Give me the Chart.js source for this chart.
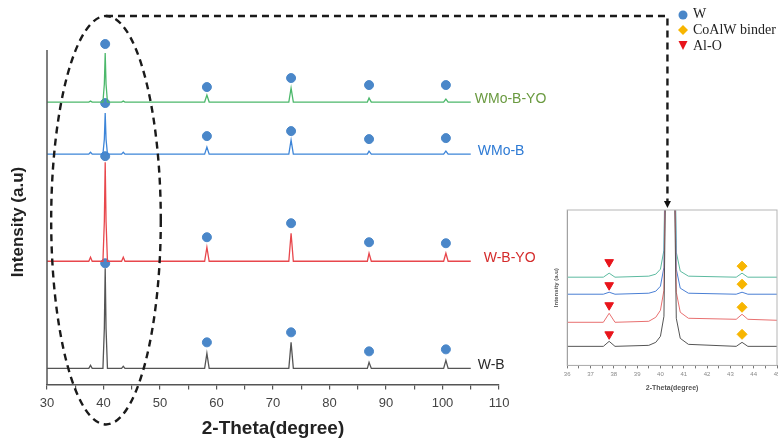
<!DOCTYPE html>
<html>
<head>
<meta charset="utf-8">
<script src="https://cdn.jsdelivr.net/npm/chart.js@4.4.0/dist/chart.umd.min.js"></script>
<style>
  html, body { margin: 0; padding: 0; background: #fff; }
  #wrap { position: relative; width: 778px; height: 438px; overflow: hidden; }
  #main { position: absolute; left: 0; top: 0; }
  #inset { position: absolute; left: 535px; top: 195px; }
</style>
</head>
<body>
<div id="wrap">
  <canvas id="main" width="778" height="438"></canvas>
  <canvas id="inset" width="260" height="243"></canvas>
</div>
<script>
// XRD patterns - main plot (2-theta 30..105)
const twoTheta = [30, 37.4, 37.7, 38.0, 39.9, 40.15, 40.3, 40.45, 40.7, 43.2, 43.5, 43.8, 57.9, 58.3, 58.7, 72.8, 73.2, 73.6, 86.7, 87.0, 87.4, 100.2, 100.6, 101.0, 105];
const wB     = [0, 0, 3, 0, 0, 40, 100, 40, 0, 0, 2, 0, 0, 15, 0, 0, 26, 0, 0, 6, 0, 0, 8, 0, 0];
const wBYO   = [0, 0, 4, 0, 0, 40, 99, 40, 0, 0, 4, 0, 0, 14, 0, 0, 28, 0, 0, 8, 0, 0, 8, 0, 0];
const wMoB   = [0, 0, 2, 0, 0, 15, 41, 15, 0, 0, 2, 0, 0, 7, 0, 0, 14, 0, 0, 3, 0, 0, 3, 0, 0];
const wMoBYO = [0, 0, 1, 0, 0, 18, 49, 18, 0, 0, 1, 0, 0, 7, 0, 0, 14, 0, 0, 4, 0, 0, 3, 0, 0];
const seriesNames = ['W-B', 'W-B-YO', 'WMo-B', 'WMo-B-YO'];
const offsets = [16, 123, 230, 282];

// W peak markers (blue dots)
const wPeaks = [40.3, 58.3, 73.2, 87.0, 100.6];
const dotWB     = [121, 42, 52, 33, 35];
const dotWBYO   = [228, 147, 161, 142, 141];
const dotWMoB   = [281, 248, 253, 245, 246];
const dotWMoBYO = [340, 297, 306, 299, 299];

// inset (2-theta 36..45)
const insetTheta = [36, 37.55, 37.8, 38.05, 39.5, 39.8, 40.0, 40.15, 40.24, 40.32, 40.5, 40.58, 40.68, 40.85, 41.2, 43.25, 43.5, 43.75, 45];
const inWB     = [0, 0, 5, 0, 1, 4, 10, 30, 200, 400, 400, 200, 28, 8, 2, 0, 4, 0, 0];
const inWBYO   = [0, 0, 9, 0, 1, 5, 12, 32, 200, 400, 400, 200, 30, 10, 4, 3, 8, 3, 2];
const inWMoB   = [0, 0, 2, 0, 1, 3, 8, 27, 200, 400, 400, 200, 25, 6, 1, 0, 2, 0, 0];
const inWMoBYO = [0, 0, 4, 0, 1, 3, 8, 27, 200, 400, 400, 200, 25, 6, 1, 0, 4, 0, 0];
const inOffsets = [19, 43, 71, 88];
const alOPeak = 37.8;
const alOMarks = [31, 60, 80, 103];
const binderPeak = 43.5;
const binderMarks = [31, 58, 81, 99];

const lineColors = ['#555555', '#e8474c', '#3d85d8', '#4cb86b'];
const labelColors = ['#2a2a2a', '#d42b2b', '#2d7ad4', '#6a9a40'];
const inColors = ['#555555', '#e87070', '#4a7fd4', '#5cbaa0'];
const dotColor = '#4a87c9';

function toPoints(xs, ys, off) {
  return xs.map((x, i) => ({ x: x, y: ys[i] + off }));
}

// ---------- inset chart ----------
const insetBox = {
  id: 'insetBox',
  afterDraw(chart) {
    const { ctx, chartArea: a } = chart;
    ctx.save();
    ctx.strokeStyle = '#b5b5b5';
    ctx.lineWidth = 1;
    ctx.strokeRect(a.left, a.top, a.right - a.left, a.bottom - a.top);
    ctx.restore();
  }
};

const inSeries = [inWB, inWBYO, inWMoB, inWMoBYO];
const insetChart = new Chart(document.getElementById('inset'), {
  type: 'scatter',
  data: {
    datasets: inSeries.map((s, i) => ({
      data: toPoints(insetTheta, s, inOffsets[i]),
      showLine: true,
      borderColor: inColors[i],
      borderWidth: 1,
      pointRadius: 0
    })).concat([
      {
        data: alOMarks.map(v => ({ x: alOPeak, y: v })),
        pointStyle: 'triangle', rotation: 180, pointRadius: 5,
        backgroundColor: '#e8141b', borderColor: '#e8141b'
      },
      {
        data: binderMarks.map(v => ({ x: binderPeak, y: v })),
        pointStyle: 'rectRot', pointRadius: 5,
        backgroundColor: '#f7b500', borderColor: '#f7b500'
      }
    ])
  },
  options: {
    responsive: false,
    animation: false,
    layout: { padding: { left: 9, top: 15, right: 18, bottom: 46 } },
    plugins: { legend: { display: false }, tooltip: { enabled: false } },
    scales: {
      x: {
        type: 'linear', min: 36, max: 45,
        ticks: { stepSize: 0.5, autoSkip: false, maxRotation: 0, padding: 2, color: '#888',
                 font: { size: 6 }, callback: v => (v % 1 === 0 ? v : '') },
        grid: { drawOnChartArea: false, tickLength: 3, color: '#777' },
        border: { color: '#777', width: 1 },
        title: { display: true, text: '2-Theta(degree)', color: '#555',
                 font: { size: 7, weight: 'bold' }, padding: { top: 4, bottom: 0 } }
      },
      y: {
        min: 0, max: 155,
        ticks: { display: false },
        grid: { drawOnChartArea: false, drawTicks: false },
        border: { color: '#777', width: 1 },
        title: { display: true, text: 'Intensity (a.u)', color: '#555',
                 font: { size: 6, weight: 'bold' }, padding: { top: 9, bottom: 7 } }
      }
    }
  },
  plugins: [insetBox]
});

// ---------- main chart ----------
const overlay = {
  id: 'overlay',
  afterDraw(chart) {
    const { ctx } = chart;
    const xs = chart.scales.x, ys = chart.scales.y;
    ctx.save();

    // y axis line (0..334) and title
    const x0 = xs.getPixelForValue(30);
    ctx.strokeStyle = '#555';
    ctx.lineWidth = 1.5;
    ctx.beginPath();
    ctx.moveTo(x0, ys.getPixelForValue(0));
    ctx.lineTo(x0, ys.getPixelForValue(334));
    ctx.stroke();
    ctx.save();
    ctx.translate(18, 222);
    ctx.rotate(-Math.PI / 2);
    ctx.fillStyle = '#222';
    ctx.font = 'bold 17px "Liberation Sans", Arial, sans-serif';
    ctx.textAlign = 'center';
    ctx.textBaseline = 'middle';
    ctx.fillText('Intensity (a.u)', 0, 0);
    ctx.restore();

    // dashed ellipse round the 40 deg peak
    const cx = xs.getPixelForValue(40.44);
    const rx = xs.getPixelForValue(50.14) - cx;
    const cy = ys.getPixelForValue(164);
    const ry = ys.getPixelForValue(0) - ys.getPixelForValue(204);
    ctx.setLineDash([7, 5]);
    ctx.lineWidth = 2.4;
    ctx.strokeStyle = '#1a1a1a';
    ctx.beginPath();
    ctx.ellipse(cx, cy, rx, ry, 0, 0, Math.PI * 2);
    ctx.stroke();

    // dashed connector to inset
    const topY = cy - ry;
    const ix = insetChart.scales.x.getPixelForValue(40.3) + 535;
    const iy = insetChart.chartArea.top + 195 - 4;
    ctx.beginPath();
    ctx.moveTo(cx, topY);
    ctx.lineTo(ix, topY);
    ctx.lineTo(ix, iy - 4);
    ctx.stroke();
    ctx.setLineDash([]);
    ctx.fillStyle = '#111';
    ctx.beginPath();
    ctx.moveTo(ix - 3.5, iy - 5);
    ctx.lineTo(ix + 3.5, iy - 5);
    ctx.lineTo(ix, iy + 2);
    ctx.closePath();
    ctx.fill();

    // series labels
    ctx.font = '14px "Liberation Sans", Arial, sans-serif';
    ctx.textBaseline = 'middle';
    const gaps = [7, 13, 7, 4];
    seriesNames.forEach((n, i) => {
      ctx.fillStyle = labelColors[i];
      ctx.fillText(n, xs.getPixelForValue(105) + gaps[i], ys.getPixelForValue(offsets[i]) - 3);
    });

    // marker legend
    const lx = 683;
    ctx.fillStyle = dotColor;
    ctx.beginPath();
    ctx.arc(lx, 15, 4.5, 0, Math.PI * 2);
    ctx.fill();
    ctx.fillStyle = '#f7b500';
    ctx.beginPath();
    ctx.moveTo(lx, 25); ctx.lineTo(lx + 5, 30); ctx.lineTo(lx, 35); ctx.lineTo(lx - 5, 30);
    ctx.closePath();
    ctx.fill();
    ctx.fillStyle = '#e8141b';
    ctx.beginPath();
    ctx.moveTo(lx - 4.5, 41); ctx.lineTo(lx + 4.5, 41); ctx.lineTo(lx, 50);
    ctx.closePath();
    ctx.fill();
    ctx.fillStyle = '#222';
    ctx.font = '14px "Liberation Serif", "Times New Roman", serif';
    ctx.fillText('W', lx + 10, 14);
    ctx.fillText('CoAlW binder', lx + 10, 30);
    ctx.fillText('Al-O', lx + 10, 46);

    ctx.restore();
  }
};

const mainSeries = [wB, wBYO, wMoB, wMoBYO];
const dotSeries = [dotWB, dotWBYO, dotWMoB, dotWMoBYO];
const dotPoints = [];
dotSeries.forEach(d => d.forEach((v, i) => dotPoints.push({ x: wPeaks[i], y: v })));

new Chart(document.getElementById('main'), {
  type: 'scatter',
  data: {
    datasets: mainSeries.map((s, i) => ({
      label: seriesNames[i],
      data: toPoints(twoTheta, s, offsets[i]),
      showLine: true,
      borderColor: lineColors[i],
      borderWidth: 1.3,
      pointRadius: 0
    })).concat([{
      label: 'W',
      data: dotPoints,
      pointRadius: 4.5,
      backgroundColor: dotColor,
      borderColor: dotColor,
      clip: false
    }])
  },
  options: {
    responsive: false,
    animation: false,
    layout: { padding: { left: 47, top: 38, right: 279, bottom: 0 } },
    plugins: { legend: { display: false }, tooltip: { enabled: false } },
    scales: {
      x: {
        type: 'linear', min: 30, max: 110,
        ticks: { stepSize: 5, autoSkip: false, maxRotation: 0, padding: 6, color: '#444',
                 font: { size: 13, family: '"Liberation Sans", Arial, sans-serif' },
                 callback: v => (v % 10 === 0 ? v : '') },
        grid: { drawOnChartArea: false, tickLength: 5, color: '#555', lineWidth: 1.2 },
        border: { color: '#555', width: 1.5 },
        title: { display: true, text: '2-Theta(degree)', color: '#222',
                 font: { size: 19, weight: 'bold', lineHeight: 1, family: '"Liberation Sans", Arial, sans-serif' },
                 padding: { top: 2, bottom: 0 } }
      },
      y: {
        display: false,
        min: 0, max: 346
      }
    }
  },
  plugins: [overlay]
});
</script>
</body>
</html>
